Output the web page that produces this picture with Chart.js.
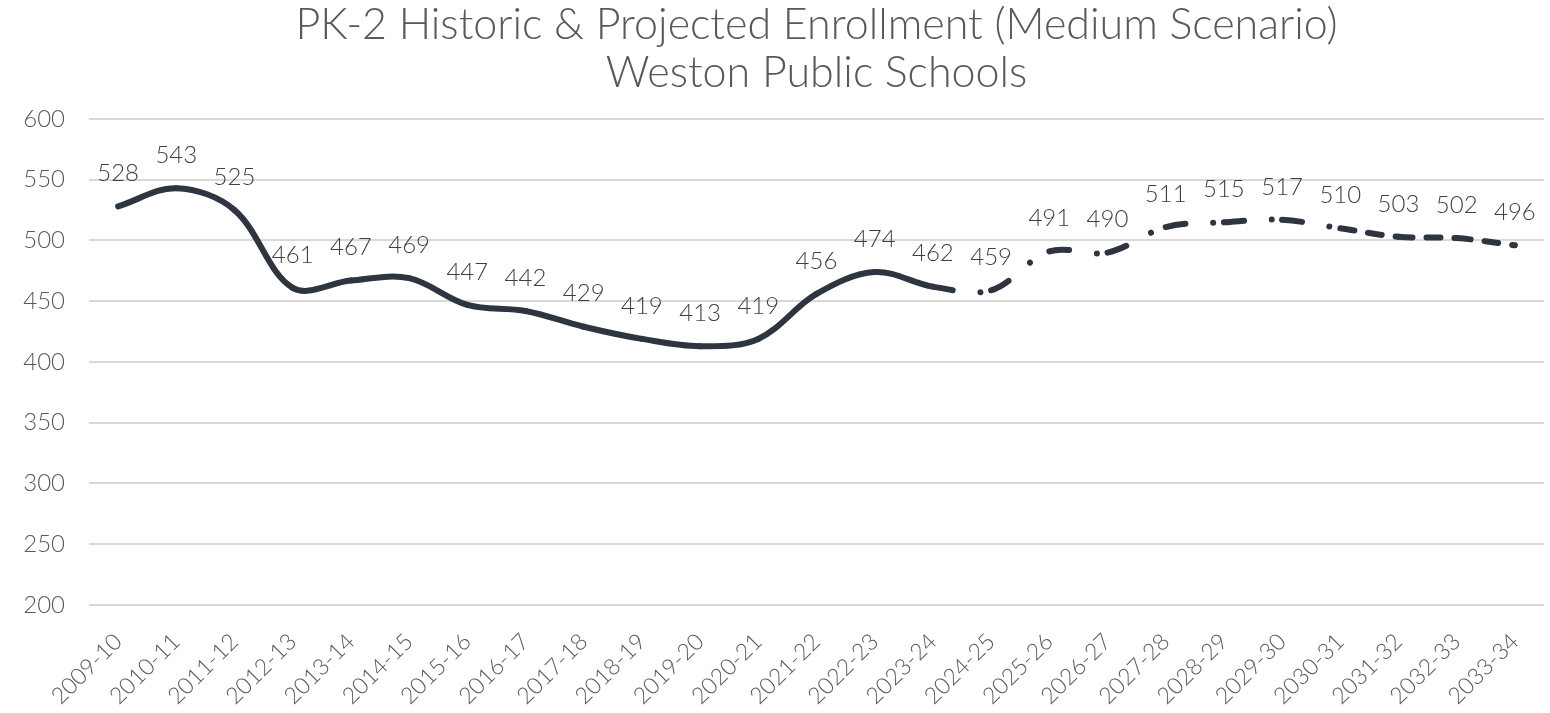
<!DOCTYPE html>
<html>
<head>
<meta charset="utf-8">
<script src="https://cdn.jsdelivr.net/npm/chart.js@4"></script>
<style>
html,body{margin:0;padding:0;background:#fff;}
#wrap{width:1550px;height:713px;position:relative;}
</style>
</head>
<body>
<div id="wrap"><canvas id="c" width="1550" height="713"></canvas></div>
<script>
const titleLines = ["PK-2 Historic & Projected Enrollment (Medium Scenario)", "Weston Public Schools"];
const years = ["2009-10","2010-11","2011-12","2012-13","2013-14","2014-15","2015-16","2016-17","2017-18","2018-19","2019-20","2020-21","2021-22","2022-23","2023-24","2024-25","2025-26","2026-27","2027-28","2028-29","2029-30","2030-31","2031-32","2032-33","2033-34"];
const enrollment = [528,543,525,461,467,469,447,442,429,419,413,419,456,474,462,459,491,490,511,515,517,510,503,502,496];
const lastHistoricIndex = 14;
const dashedFromIndex = 21;
const yTicks = [200,250,300,350,400,450,500,550,600];

const lineColor = '#2e3541';
const labelPlugin = {
  id: 'valueLabels',
  afterDatasetsDraw(chart) {
    const ctx = chart.ctx;
    const meta = chart.getDatasetMeta(0);
    ctx.save();
    ctx.font = '300 24px Lato';
    ctx.fillStyle = '#404040';
    ctx.textAlign = 'center';
    ctx.textBaseline = 'middle';
    meta.data.forEach((pt, i) => {
      ctx.fillText(String(enrollment[i]), pt.x, pt.y - 33);
    });
    ctx.restore();
  }
};

new Chart(document.getElementById('c'), {
  type: 'line',
  data: {
    labels: years,
    datasets: [{
      data: enrollment,
      borderColor: lineColor,
      borderWidth: 6,
      borderCapStyle: 'round',
      borderJoinStyle: 'round',
      pointRadius: 0,
      tension: 0.35,
      fill: false,
      segment: {
        borderDash: c => c.p0DataIndex >= dashedFromIndex ? [14, 14]
                        : (c.p0DataIndex >= lastHistoricIndex ? [20, 28, 0.01, 200] : undefined),
        borderDashOffset: c => (c.p0DataIndex % 2) ? 0.0001 : 0
      }
    }]
  },
  options: {
    responsive: false,
    animation: false,
    layout: { padding: { left: 0, right: 6, top: 0, bottom: 0 } },
    plugins: {
      legend: { display: false },
      tooltip: { enabled: false },
      title: {
        display: true,
        fullSize: false,
        text: titleLines,
        color: '#595959',
        font: { family: 'Lato', size: 43, weight: '300', lineHeight: 1.116 },
        padding: { top: 1, bottom: 22 }
      }
    },
    scales: {
      x: {
        offset: true,
        grid: { display: false, drawTicks: false },
        border: { display: false },
        ticks: {
          color: '#595959',
          font: { family: 'Lato', size: 23, weight: '300' },
          maxRotation: 45, minRotation: 45,
          autoSkip: false,
          padding: 23
        },
        afterFit: s => { s.height = 108; s.paddingLeft = 0; s.paddingRight = 0; }
      },
      y: {
        min: 200, max: 600,
        afterBuildTicks: s => { s.ticks = yTicks.map(v => ({ value: v })); },
        grid: { color: '#d9d9d9', lineWidth: 2, drawTicks: false },
        border: { display: false },
        ticks: {
          color: '#595959',
          font: { family: 'Lato', size: 24, weight: '300' },
          padding: 24
        },
        afterFit: s => { s.width = 89; }
      }
    }
  },
  plugins: [labelPlugin]
});
</script>
</body>
</html>
